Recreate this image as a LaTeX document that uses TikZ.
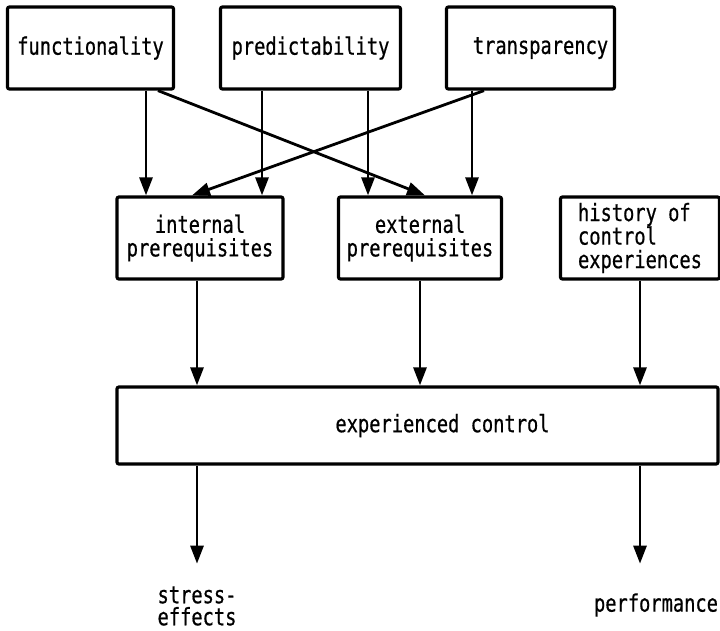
\documentclass[tikz,border=0pt]{standalone}
\usepackage{fontspec}
\setmainfont[FakeStretch=0.78, FakeBold=0.6]{DejaVu Sans Mono}
\usetikzlibrary{arrows.meta}
\begin{document}
\begin{tikzpicture}[x=1pt, y=1pt, node distance={220pt}, line width=2.8pt,
	> = {Triangle[length=18pt, width=13pt]},
	node/.style = {draw, line width=3.2pt, rounded corners=2pt, minimum height=82pt, align=center, font=\fontsize{24}{23.5}\selectfont},
	txt/.style = {align=center, font=\fontsize{24}{22}\selectfont}]
		\useasboundingbox (0,0) rectangle (720,-630);
		\node[node, minimum width=166pt] (func) at (90.5,-48) {functionality};
		\node[node, minimum width=180pt] (pred) [right of=func] {predictability};
		\node[node, minimum width=168pt] (trans) [right of=pred] {\hspace{20pt}transparency};
		\node[node, minimum width=166pt] (intp) at (200,-238) {internal\\prerequisites};
		\node[node, minimum width=163pt] (extp) [right of=intp] {external\\prerequisites};
		\node[node, minimum width=159pt, align=left] (hist) [right of=extp] {history of\\control\\experiences};
		\node[node, minimum width=601pt, minimum height=77pt] (expc) at (417.5,-425.5) {\hspace{50pt}experienced control};
		\node[txt] (stress) at (197,-606) {stress-\\effects};
		\node[txt] (perf) at (656,-605) {performance};
		\draw[->] ([xshift=55.5pt]func.south) to ([xshift=-54pt]intp.north);
		\draw[->] ([xshift=67.5pt]func.south) to ([xshift=5pt]extp.north);
		\draw[->] ([xshift=-48.5pt]pred.south) to ([xshift=62pt]intp.north);
		\draw[->] ([xshift=57.5pt]pred.south) to ([xshift=-52pt]extp.north);
		\draw[->] ([xshift=-46.5pt]trans.south) to ([xshift=-8pt]intp.north);
		\draw[->] ([xshift=-58.5pt]trans.south) to ([xshift=52pt]extp.north);
		\draw[->] ([xshift=-3pt]intp.south) to ([xshift=-220.5pt]expc.north);
		\draw[->] (extp.south) to ([xshift=2.5pt]expc.north);
		\draw[->] (hist.south) to ([xshift=222.5pt]expc.north);
		\draw[->] ([xshift=-220.5pt]expc.south) to ([yshift=18pt]stress.north);
		\draw[->] ([xshift=222.5pt]expc.south) to ([xshift=-16pt, yshift=25pt]perf.north);

	\end{tikzpicture}
\end{document}
